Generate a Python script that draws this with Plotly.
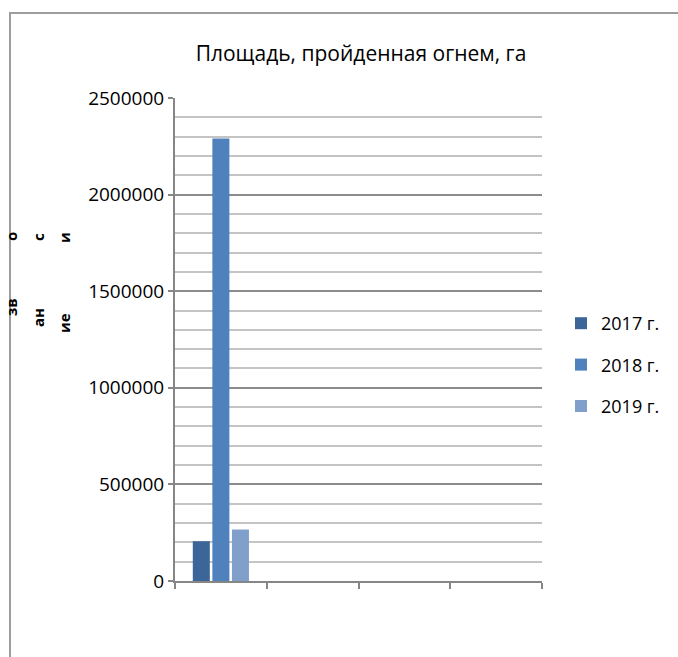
import plotly.graph_objects as go

categories = ["1", "2", "3", "4"]
series_names = ["2017 г.", "2018 г.", "2019 г."]
values_2017 = [206000, None, None, None]
values_2018 = [2290000, None, None, None]
values_2019 = [266000, None, None, None]
series_values = [values_2017, values_2018, values_2019]
colors = ["#3d6698", "#4f81bd", "#819fcb"]
y_tick_vals = [0, 500000, 1000000, 1500000, 2000000, 2500000]
y_tick_text = ["0", "500000", "1000000", "1500000", "2000000", "2500000"]
title_text = "Площадь, пройденная огнем, га"
axis_title_pieces = [("о", 11, 237), ("с", 38, 237), ("и", 64, 237),
                     ("зв", 11, 307), ("ан", 38, 318), ("ие", 64, 323)]

W, H = 678, 657
ML, MR, MT, MB = 175, 136, 98, 76
PW = W - ML - MR
PH = H - MT - MB

def px(x):
    return (x - ML) / PW

def py(y):
    return (H - MB - y) / PH

FONT = "Open Sans"

fig = go.Figure()
for name, vals, col in zip(series_names, series_values, colors):
    fig.add_trace(go.Bar(x=categories, y=vals, name=name, marker_color=col,
                         marker_line_width=0, legendgroup=name))

fig.update_layout(
    width=W, height=H,
    margin=dict(l=ML, r=MR, t=MT, b=MB),
    paper_bgcolor="white", plot_bgcolor="white",
    barmode="group", bargap=0.36, bargroupgap=0.13,
    font=dict(family=FONT, size=18, color="#000000"),
    title=dict(text=title_text, x=px(361), xref="paper", xanchor="center",
               y=1 - 54 / H, yanchor="middle",
               font=dict(family=FONT, size=21, color="#000000")),
    showlegend=True,
    legend=dict(x=px(561), xanchor="left", y=py(365), yanchor="middle",
                font=dict(family=FONT, size=18), tracegroupgap=15,
                bgcolor="rgba(0,0,0,0)", borderwidth=0),
)

fig.update_xaxes(
    type="category", categoryarray=categories, range=[-0.5, 3.5],
    showticklabels=False, tickson="boundaries", ticks="outside", ticklen=6,
    tickcolor="#868686", tickwidth=2,
    showline=True, linecolor="#868686", linewidth=2, showgrid=False, zeroline=False,
)
fig.update_yaxes(
    range=[0, 2500000], tickvals=y_tick_vals, ticktext=y_tick_text,
    ticks="outside", ticklen=5, tickcolor="#868686", tickwidth=2,
    showline=True, linecolor="#868686", linewidth=2,
    showgrid=True, gridcolor="#8c8c8c", gridwidth=1.5, zeroline=False,
    minor=dict(dtick=100000, showgrid=True, gridcolor="#c4c4c4", gridwidth=1.5),
    tickfont=dict(family=FONT, size=19),
)

for txt, x, y in axis_title_pieces:
    fig.add_annotation(text="<b>" + txt + "</b>", x=px(x), y=py(y), xref="paper", yref="paper",
                       showarrow=False, textangle=-90, font=dict(family=FONT, size=15, color="#000000"),
                       xanchor="center", yanchor="middle")

# outer chart frame: right and bottom edges fall outside the page, as in the reference
fig.add_shape(type="rect", xref="paper", yref="paper", layer="below",
              x0=px(10), x1=px(W + 40), y0=py(13), y1=py(H + 40),
              line=dict(color="#9d9d9d", width=2), fillcolor="rgba(0,0,0,0)")

post = (
    "document.body.style.margin='0';document.body.style.overflow='hidden';"
    "document.documentElement.style.overflow='hidden';"
)
fig.write_html("out.html", config={"displayModeBar": False}, post_script=post)
